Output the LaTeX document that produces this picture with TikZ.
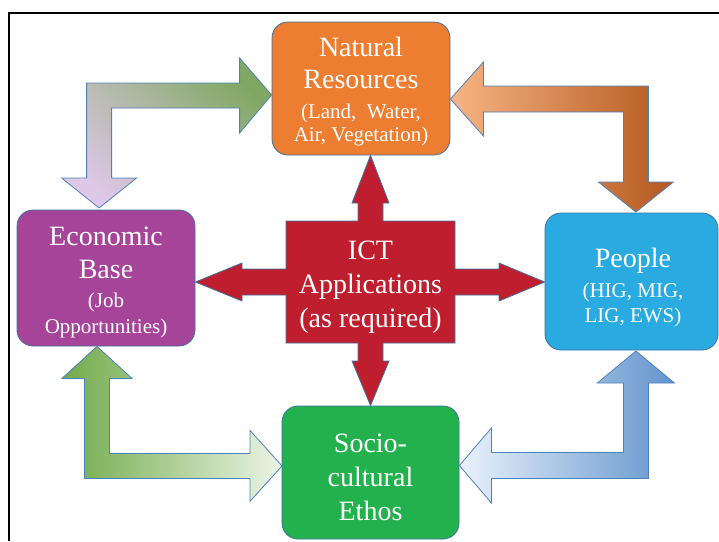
\documentclass[tikz,border=0pt]{standalone}
\usepackage{fontspec}
\setmainfont{Liberation Serif}
\usepackage{tikz}

\definecolor{natorange}{RGB}{237,125,49}
\definecolor{ecopurple}{RGB}{166,68,154}
\definecolor{pplblue}{RGB}{41,171,226}
\definecolor{socgreen}{RGB}{34,177,76}
\definecolor{ictred}{RGB}{190,30,45}
\definecolor{boxline}{RGB}{65,113,156}
\definecolor{arrowline}{RGB}{79,129,189}

\newcommand{\subtxt}{\fontsize{21}{23}\selectfont}

\begin{document}
\begin{tikzpicture}[x=1pt,y=-1pt,
	box/.style={rounded corners=16pt,draw=boxline,line width=0.8pt},
	boxtext/.style={text=white,align=center,font=\fontsize{28}{32}\selectfont},
	bent/.style={draw=arrowline,line width=0.8pt}]
	\useasboundingbox (0,0) rectangle (719,541);

	% frame
	\draw[line width=2pt] (719,13) -- (9,13) -- (9,541);

	% boxes
	\node[box,fill=natorange,minimum width=178pt,minimum height=133pt] (nat) at (361,88.5) {};
	\node[box,fill=ecopurple,minimum width=178pt,minimum height=136pt] (eco) at (106,278) {};
	\node[box,fill=pplblue,minimum width=173pt,minimum height=137pt] (ppl) at (631.5,281.5) {};
	\node[box,fill=socgreen,minimum width=177pt,minimum height=133pt] (soc) at (370.5,472.5) {};

	% box texts
	\node[boxtext] (natlbl) at ([yshift=-3pt]nat)
		{Natural\\Resources\\[-2pt]\subtxt (Land, \ Water,\\[-9pt]\subtxt Air, Vegetation)};
	\node[boxtext] (ecolbl) at ([yshift=-4pt]eco)
		{Economic\\[1pt]Base\\[-3pt]\subtxt (Job\\[-6pt]\subtxt Opportunities)};
	\node[boxtext] (ppllbl) at ([xshift=1.5pt,yshift=-6pt]ppl)
		{People\\[-2pt]\subtxt (HIG, MIG,\\[-7pt]\subtxt LIG, EWS)};
	\node[boxtext] (soclbl) at ([yshift=-5pt]soc)
		{Socio-\\[2pt]cultural\\[2pt]Ethos};

	% bent arrows
	\draw[bent,top color={rgb,255:red,128;green,168;blue,98},middle color={rgb,255:red,180;green,180;blue,176},
		bottom color={rgb,255:red,222;green,200;blue,232},shading angle=-45]
		([yshift=-6.5pt]nat.west) -- ++(-32,38) -- ++(0,-25) -- ++(-128,0) -- ++(0,70) -- ++(25,0)
		-- ++(-37.5,30) -- ++(-37.5,-30) -- ++(25,0) -- ++(0,-95) -- ++(153,0) -- ++(0,-25) -- cycle;
	\draw[bent,left color={rgb,255:red,246;green,180;blue,132},middle color={rgb,255:red,232;green,122;blue,46},
		right color={rgb,255:red,180;green,88;blue,30}]
		([yshift=-10.5pt]nat.east) -- ++(33,-37) -- ++(0,24) -- ++(165,0) -- ++(0,96) -- ++(25,0)
		-- ++(-37.5,30) -- ++(-37.5,-30) -- ++(25,0) -- ++(0,-70) -- ++(-140,0) -- ++(0,24) -- cycle;
	\draw[bent,left color={rgb,255:red,112;green,170;blue,74},right color={rgb,255:red,236;green,244;blue,230}]
		([xshift=-9pt]eco.south) -- ++(35,32) -- ++(-22.5,0) -- ++(0,75) -- ++(140.5,0) -- ++(0,-23)
		-- ++(32,35.5) -- ++(-32,35.5) -- ++(0,-23) -- ++(-165.5,0) -- ++(0,-100) -- ++(-22.5,0) -- cycle;
	\draw[bent,left color={rgb,255:red,234;green,242;blue,251},right color={rgb,255:red,98;green,148;blue,204}]
		([yshift=7pt]soc.east) -- ++(32,-37.5) -- ++(0,24.5) -- ++(132,0) -- ++(0,-69.5) -- ++(-26,0)
		-- ++(38.5,-32) -- ++(38.5,32) -- ++(-26,0) -- ++(0,95.5) -- ++(-157,0) -- ++(0,24.5) -- cycle;

	% ICT hub with its four arrows
	\coordinate (hub) at (370.5,282);
	\draw[fill=ictred,draw=boxline,line width=0.8pt]
		(286,221) -- (358,221) -- (358,203) -- (352,203) -- (hub |- nat.south) -- (389,203) -- (383,203)
		-- (383,221) -- (455,221) -- (455,269) -- (499,269) -- (499,263) -- (ppl.west |- hub) -- (499,301)
		-- (499,295) -- (455,295) -- (455,343) -- (383,343) -- (383,361) -- (389,361) -- (hub |- soc.north)
		-- (352,361) -- (358,361) -- (358,343) -- (286,343) -- (286,295) -- (242,295) -- (242,301)
		-- (eco.east |- hub) -- (242,263) -- (242,269) -- (286,269) -- cycle;
	\node[boxtext,font=\fontsize{28}{34}\selectfont] (ict) at ([yshift=-5pt]hub)
		{ICT\\Applications\\(as required)};
\end{tikzpicture}
\end{document}
